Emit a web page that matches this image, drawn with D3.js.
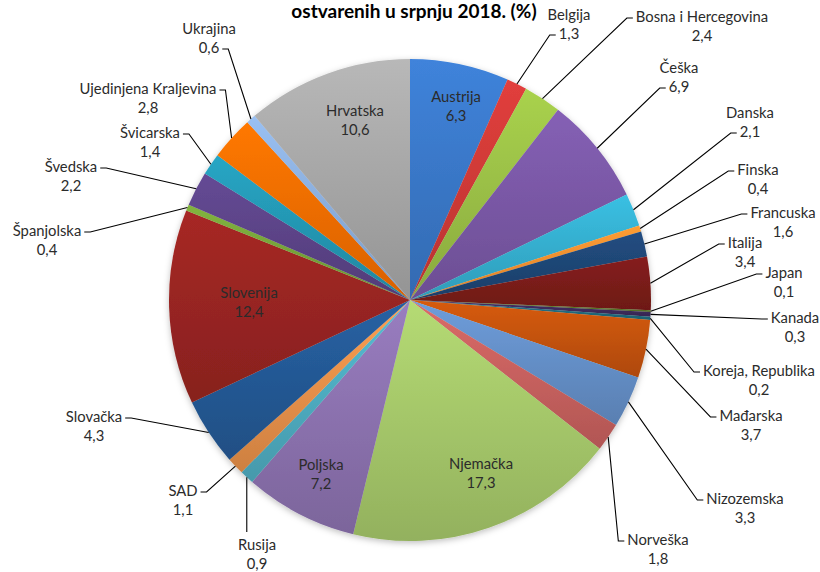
<!DOCTYPE html>
<html>
<head>
<meta charset="utf-8">
<style>
  body { margin: 0; background: #fff; }
  svg { display: block; }
  .lbl { font-family: Lato, 'Open Sans', sans-serif; font-size: 14.8px; fill: #2b2b2b; }
  .title { font-family: Lato, 'Open Sans', sans-serif; font-size: 19px; font-weight: bold; fill: #000; }
</style>
</head>
<body>
<svg width="820" height="572"></svg>
<script src="https://d3js.org/d3.v7.min.js"></script>
<script>
// countries in pie order (clockwise from 12 o'clock)
const countries = ["Austrija", "Belgija", "Bosna i Hercegovina", "Češka", "Danska", "Finska",
  "Francuska", "Italija", "Japan", "Kanada", "Koreja, Republika", "Mađarska", "Nizozemska",
  "Norveška", "Njemačka", "Poljska", "Rusija", "SAD", "Slovačka", "Slovenija", "Španjolska",
  "Švedska", "Švicarska", "Ujedinjena Kraljevina", "Ukrajina", "Hrvatska"];
const shares = [6.3, 1.3, 2.4, 6.9, 2.1, 0.4, 1.6, 3.4, 0.1, 0.3, 0.2, 3.7, 3.3,
  1.8, 17.3, 7.2, 0.9, 1.1, 4.3, 12.4, 0.4, 2.2, 1.4, 2.8, 0.6, 10.6];
const colors = ["#3a78c8", "#cf3a37", "#9bc046", "#7a58a6", "#35b0d0", "#f7902f",
  "#1f4676", "#7b1c1a", "#5e7a2a", "#3e2c5e", "#216d80", "#c55309", "#6590c8",
  "#c9625f", "#a6c86a", "#8c72b0", "#4fadc2", "#e8914a", "#245995", "#992522", "#77a53a",
  "#5c4488", "#2498b4", "#f56e05", "#8cb0de", "#a8a8a8"];

const titleText = "ostvarenih u srpnju 2018. (%)";

// label placement: [x, y of first line], side the leader attaches, which line it attaches to
const labelPos = {
  "Austrija": [456, 97, "in"], "Hrvatska": [355, 111, "in"], "Slovenija": [249, 293, "in"],
  "Poljska": [321, 465, "in"], "Njemačka": [481, 464, "in"],
  "Belgija": [569, 15, "L", 1], "Bosna i Hercegovina": [702, 17, "L", 0],
  "Češka": [679, 68, "L", 1], "Danska": [750, 113, "L", 1], "Finska": [758, 170, "L", 0],
  "Francuska": [783, 213, "L", 0], "Italija": [745, 243, "L", 0], "Japan": [784, 273, "L", 0],
  "Kanada": [795, 318, "L", 0], "Koreja, Republika": [759, 371, "L", 0],
  "Mađarska": [751, 416, "L", 0], "Nizozemska": [745, 499, "L", 0],
  "Norveška": [658, 540, "L", 0], "Rusija": [257, 545, "T", 0], "SAD": [183, 491, "R", 0],
  "Slovačka": [94, 417, "R", 0], "Španjolska": [47, 231, "R", 0], "Švedska": [71, 167, "R", 0],
  "Švicarska": [150, 133, "R", 0], "Ujedinjena Kraljevina": [148, 89, "R", 0],
  "Ukrajina": [209, 29, "R", 1]
};

const fmt = v => String(v).replace(".", ",");

const svg = d3.select("svg");
const cx = 410, cy = 300, r = 241;

const data = countries.map((c, i) => ({ name: c, value: shares[i], color: colors[i] }));

const pie = d3.pie().sort(null).value(d => d.value);
const arc = d3.arc().innerRadius(0).outerRadius(r);
const arcs = pie(data);

// per-slice vertical gradients (lighter top, darker bottom)
const defs = svg.append("defs");
const grads = defs.selectAll("linearGradient")
  .data(data)
  .join("linearGradient")
  .attr("id", (d, i) => "g" + i)
  .attr("x1", 0).attr("y1", 0).attr("x2", 0).attr("y2", 1);
grads.append("stop").attr("offset", 0).attr("stop-color", d => d3.color(d.color).brighter(0.25));
grads.append("stop").attr("offset", 1).attr("stop-color", d => d3.color(d.color).darker(0.35));

const filter = defs.append("filter").attr("id", "shadow")
  .attr("x", "-10%").attr("y", "-10%").attr("width", "120%").attr("height", "120%");
filter.append("feDropShadow").attr("dx", 0).attr("dy", 2).attr("stdDeviation", 3)
  .attr("flood-color", "#000").attr("flood-opacity", 0.25);

const g = svg.append("g").attr("transform", `translate(${cx},${cy})`);

g.append("g").attr("filter", "url(#shadow)")
  .selectAll("path")
  .data(arcs)
  .join("path")
  .attr("d", arc)
  .attr("fill", (d, i) => `url(#g${i})`);

// title (second line of the original heading, top line is cut off)
svg.append("text").attr("class", "title")
  .attr("x", 414).attr("y", 18).attr("text-anchor", "middle")
  .text(titleText);

// labels and leader lines
const labels = svg.append("g");
const leaders = svg.append("g");

arcs.forEach(a => {
  const d = a.data;
  const p = labelPos[d.name];
  const t = labels.append("text").attr("class", "lbl").attr("text-anchor", "middle");
  t.append("tspan").attr("x", p[0]).attr("y", p[1] + 5).text(d.name);
  t.append("tspan").attr("x", p[0]).attr("y", p[1] + 24).text(fmt(d.value));
  if (p[2] === "in") return;

  const spans = t.selectAll("tspan").nodes();
  const w = spans[p[3]].getComputedTextLength();
  const mid = (a.startAngle + a.endAngle) / 2;
  const sx = cx + Math.sin(mid) * r, sy = cy - Math.cos(mid) * r;
  const ly = p[1] + p[3] * 19 + 1;
  let pts;
  if (p[2] === "L") {
    const ax = p[0] - w / 2 - 3;
    pts = [[sx, sy], [ax - 6, ly], [ax, ly]];
  } else if (p[2] === "R") {
    const ax = p[0] + w / 2 + 3;
    pts = [[sx, sy], [ax + 6, ly], [ax, ly]];
  } else {
    pts = [[sx, sy], [sx, p[1] - 13]];
  }
  leaders.append("path")
    .attr("d", d3.line()(pts))
    .attr("fill", "none")
    .attr("stroke", "#000")
    .attr("stroke-width", 1.1);
});
</script>
</body>
</html>
